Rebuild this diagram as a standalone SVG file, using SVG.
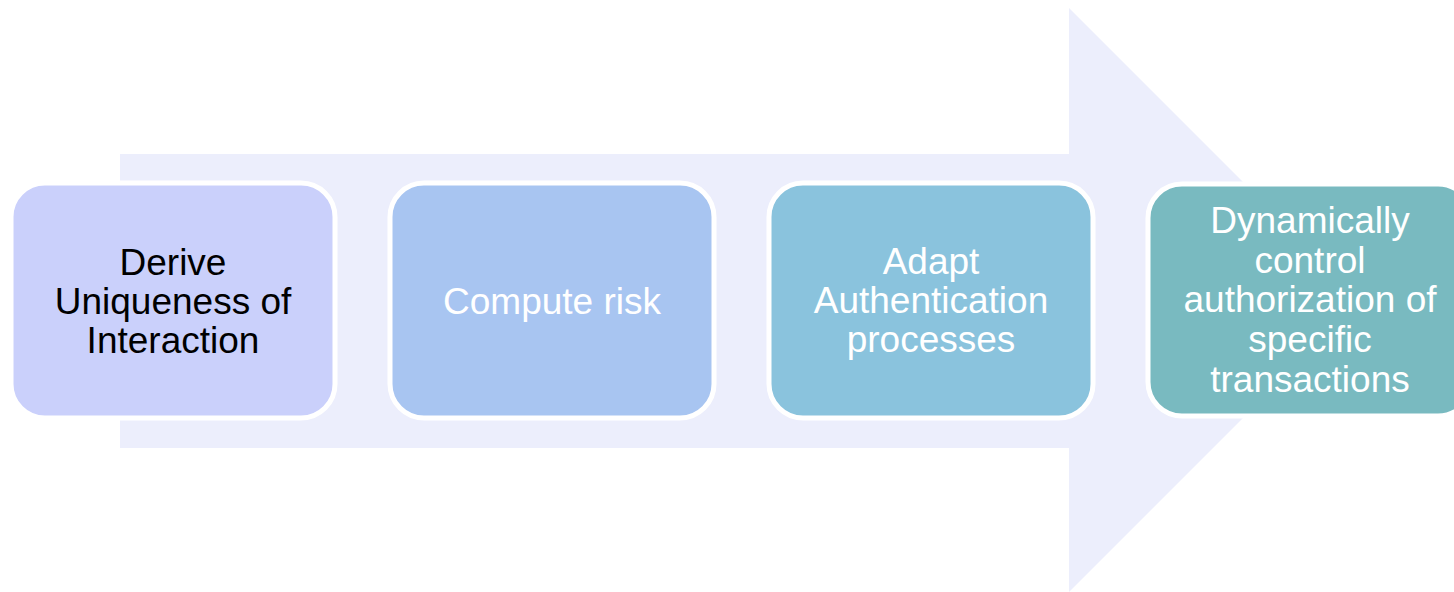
<svg xmlns="http://www.w3.org/2000/svg" width="1454" height="592" viewBox="0 0 1454 592">
  <style>
    .box { stroke: #FFFFFF; stroke-width: 5; }
    .lbl { font-family: "Liberation Sans", Arial, sans-serif; font-size: 37px; text-anchor: middle; }
    .dark { fill: #000000; }
    .light { fill: #FFFFFF; }
  </style>
  <rect x="0" y="0" width="1454" height="592" fill="#FFFFFF"/>
  <g id="connectors">
    <polygon id="arrow" points="120,154 1069,154 1069,8 1361,300 1069,592 1069,448 120,448" fill="#ECEEFC"/>
  </g>
  <g id="node1">
    <rect class="box" x="11" y="183" width="324" height="235" rx="34" fill="#CAD0FB"/>
    <text class="lbl dark" x="173" y="275">Derive</text>
    <text class="lbl dark" x="173" y="314">Uniqueness of</text>
    <text class="lbl dark" x="173" y="353">Interaction</text>
  </g>
  <g id="node2">
    <rect class="box" x="390" y="183" width="324" height="235" rx="34" fill="#A8C5F1"/>
    <text class="lbl light" x="552" y="314">Compute risk</text>
  </g>
  <g id="node3">
    <rect class="box" x="769" y="183" width="324" height="235" rx="34" fill="#8AC3DD"/>
    <text class="lbl light" x="931" y="274">Adapt</text>
    <text class="lbl light" x="931" y="313">Authentication</text>
    <text class="lbl light" x="931" y="352">processes</text>
  </g>
  <g id="node4">
    <rect class="box" x="1148" y="184" width="324" height="232" rx="34" fill="#79BAC0"/>
    <text class="lbl light" x="1310" y="233">Dynamically</text>
    <text class="lbl light" x="1310" y="273">control</text>
    <text class="lbl light" x="1310" y="312">authorization of</text>
    <text class="lbl light" x="1310" y="352">specific</text>
    <text class="lbl light" x="1310" y="392">transactions</text>
  </g>
</svg>
